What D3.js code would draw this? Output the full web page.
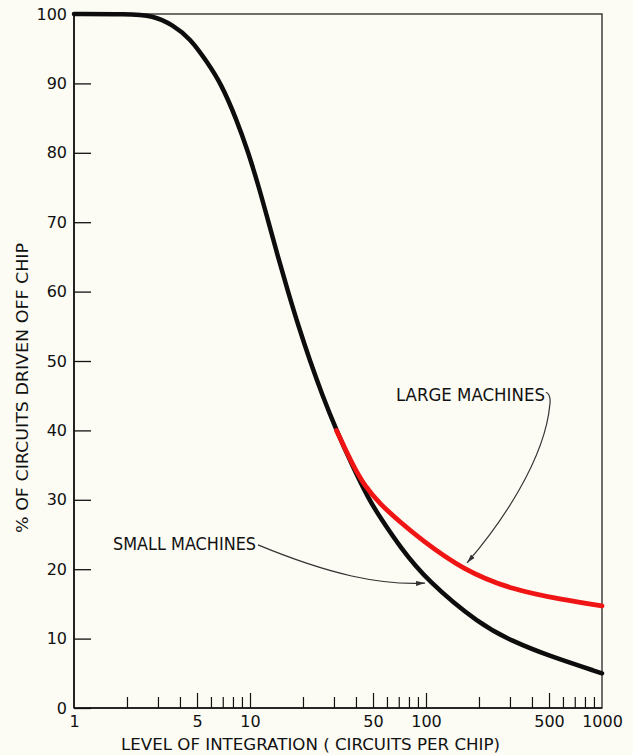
<!DOCTYPE html>
<html>
<head>
<meta charset="utf-8">
<script src="https://cdn.jsdelivr.net/npm/d3@7"></script>
<style>
  body { margin: 0; background: #fcfcf4; }
  svg { display: block; }
</style>
</head>
<body>
<div id="wrapper"></div>
<script>
// 1. Data
const smallX = [1, 2, 2.81, 3.65, 4.56, 5.7, 6.84, 8.33, 9.8, 11.25, 12.74, 14.42, 16.44, 18.86, 21.93, 25.82, 31.0, 37.97, 47.45, 54.8, 71.2, 101, 203, 312, 487, 1000]
const smallY = [100, 100, 99.8, 98.4, 96.5, 93.1, 90, 85, 80, 75, 70, 65, 60, 55, 50, 45, 40, 35, 30, 27.5, 23.2, 18.4, 12.0, 9.6, 7.6, 5.0]

const largeX = [31, 38, 45, 54.8, 71.2, 92.5, 162, 312, 600, 1000]
const largeY = [40, 35.2, 31.9, 29.4, 26.8, 24.4, 19.9, 17.0, 15.6, 14.7]

const yTicks = [0, 10, 20, 30, 40, 50, 60, 70, 80, 90, 100]
const xLabelTicks = [1, 5, 10, 50, 100, 500, 1000]
const xMajorTicks = [5, 10, 50, 100, 500]
const xMinorTicks = [2, 3, 4, 6, 7, 8, 9, 20, 30, 40, 60, 70, 80, 90, 200, 300, 400, 600, 700, 800, 900]

const smallLabel = "SMALL MACHINES"
const largeLabel = "LARGE MACHINES"
const xTitle = "LEVEL OF INTEGRATION  ( CIRCUITS PER CHIP)"
const yTitle = "% OF CIRCUITS DRIVEN OFF CHIP"

// 2. Dimensions
const dimensions = {
  width: 633,
  height: 755,
  margin: { top: 14, right: 31, bottom: 47, left: 74 },
}
dimensions.boundedWidth = dimensions.width - dimensions.margin.left - dimensions.margin.right
dimensions.boundedHeight = dimensions.height - dimensions.margin.top - dimensions.margin.bottom

const ink = "#111"
const font = "'DejaVu Sans', sans-serif"

// 3. Canvas
const wrapper = d3.select("#wrapper")
  .append("svg")
  .attr("width", dimensions.width)
  .attr("height", dimensions.height)
  .style("background-color", "#fcfcf4")
  .style("font-family", font)

const bounds = wrapper.append("g")
  .attr("transform", `translate(${dimensions.margin.left},${dimensions.margin.top})`)

// 4. Scales
const xScale = d3.scaleLog()
  .domain([1, 1000])
  .range([0, dimensions.boundedWidth])
const yScale = d3.scaleLinear()
  .domain([0, 100])
  .range([dimensions.boundedHeight, 0])

// 5. Peripherals (frame + axes)
bounds.append("rect")
  .attr("width", dimensions.boundedWidth)
  .attr("height", dimensions.boundedHeight)
  .attr("fill", "none")
  .attr("stroke", "#222")
  .attr("stroke-width", 1.3)

const yAxis = bounds.append("g")
  .call(d3.axisLeft(yScale).tickValues(yTicks).tickSizeInner(-17).tickSizeOuter(0).tickPadding(7))
yAxis.select(".domain").remove()
yAxis.selectAll("line").attr("stroke", ink).attr("stroke-width", 1.3)
yAxis.selectAll("text")
  .attr("fill", ink)
  .style("font-size", "16px")
  .style("font-family", font)

const xMinor = bounds.append("g")
  .attr("transform", `translate(0,${dimensions.boundedHeight})`)
  .call(d3.axisBottom(xScale).tickValues(xMinorTicks).tickSizeInner(-11).tickSizeOuter(0).tickFormat(""))
xMinor.select(".domain").remove()
xMinor.selectAll("line").attr("stroke", ink).attr("stroke-width", 1.2)

const xMajor = bounds.append("g")
  .attr("transform", `translate(0,${dimensions.boundedHeight})`)
  .call(d3.axisBottom(xScale).tickValues(xMajorTicks).tickSizeInner(-15).tickSizeOuter(0).tickFormat(""))
xMajor.select(".domain").remove()
xMajor.selectAll("line").attr("stroke", ink).attr("stroke-width", 1.2)

const xLabels = bounds.append("g")
  .attr("transform", `translate(0,${dimensions.boundedHeight})`)
  .call(d3.axisBottom(xScale).tickValues(xLabelTicks).tickSize(0).tickPadding(8).tickFormat(d3.format("d")))
xLabels.select(".domain").remove()
xLabels.selectAll("text")
  .attr("fill", ink)
  .style("font-size", "16px")
  .style("font-family", font)

bounds.append("line")
  .attr("x1", 0).attr("x2", dimensions.boundedWidth)
  .attr("y1", dimensions.boundedHeight).attr("y2", dimensions.boundedHeight)
  .attr("stroke", ink).attr("stroke-width", 1.6)
bounds.append("line")
  .attr("x1", 0).attr("x2", 0)
  .attr("y1", 0).attr("y2", dimensions.boundedHeight)
  .attr("stroke", ink).attr("stroke-width", 1.6)

wrapper.append("text")
  .attr("x", 121)
  .attr("y", 750)
  .attr("textLength", 379)
  .attr("lengthAdjust", "spacingAndGlyphs")
  .attr("fill", ink)
  .style("font-size", "15px")
  .text(xTitle)

wrapper.append("text")
  .attr("transform", "translate(28,388) rotate(-90)")
  .attr("text-anchor", "middle")
  .attr("textLength", 290)
  .attr("lengthAdjust", "spacingAndGlyphs")
  .attr("fill", ink)
  .style("font-size", "16px")
  .text(yTitle)

// 6. Data
// basis curve smooths out small reading errors in the hand-drawn lines
const line = d3.line()
  .x(d => xScale(d[0]))
  .y(d => yScale(d[1]))
  .curve(d3.curveBasis)

bounds.append("path")
  .datum(d3.zip(smallX, smallY))
  .attr("d", line)
  .attr("fill", "none")
  .attr("stroke", "#0d0d0d")
  .attr("stroke-width", 4.5)
  .attr("stroke-linecap", "round")

bounds.append("path")
  .datum(d3.zip(largeX, largeY))
  .attr("d", line)
  .attr("fill", "none")
  .attr("stroke", "#f01515")
  .attr("stroke-width", 4.8)
  .attr("stroke-linecap", "round")

// 7. Annotations
wrapper.append("defs").append("marker")
  .attr("id", "arrow")
  .attr("viewBox", "0 -3 9 6")
  .attr("refX", 9)
  .attr("refY", 0)
  .attr("markerWidth", 9)
  .attr("markerHeight", 6)
  .attr("markerUnits", "userSpaceOnUse")
  .attr("orient", "auto")
  .append("path")
  .attr("d", "M0,-2.5L9,0L0,2.5Z")
  .attr("fill", "#333")

const pt = d => [xScale(d[0]), yScale(d[1])]

// small machines label + leader
const smallAnchor = pt([1.666, 22.8])
bounds.append("text")
  .attr("x", smallAnchor[0])
  .attr("y", smallAnchor[1])
  .attr("textLength", 143)
  .attr("lengthAdjust", "spacingAndGlyphs")
  .attr("fill", ink)
  .style("font-size", "17px")
  .text(smallLabel)

const sl = [[11.1, 23.5], [28.5, 19.2], [54.8, 17.7], [98.7, 18.0]].map(pt)
const smallPath = d3.path()
smallPath.moveTo(...sl[0])
smallPath.bezierCurveTo(...sl[1], ...sl[2], ...sl[3])
bounds.append("path")
  .attr("d", smallPath.toString())
  .attr("fill", "none")
  .attr("stroke", "#333")
  .attr("stroke-width", 1.2)
  .attr("marker-end", "url(#arrow)")

// large machines label + leader
const largeAnchor = pt([67.5, 44.2])
bounds.append("text")
  .attr("x", largeAnchor[0])
  .attr("y", largeAnchor[1])
  .attr("textLength", 149)
  .attr("lengthAdjust", "spacingAndGlyphs")
  .attr("fill", ink)
  .style("font-size", "17px")
  .text(largeLabel)

const ll = [[480, 45.5], [513, 45.2], [506, 43.8], [474, 35.7], [263, 26.4], [171, 20.9]].map(pt)
const largePath = d3.path()
largePath.moveTo(...ll[0])
largePath.quadraticCurveTo(...ll[1], ...ll[2])
largePath.bezierCurveTo(...ll[3], ...ll[4], ...ll[5])
bounds.append("path")
  .attr("d", largePath.toString())
  .attr("fill", "none")
  .attr("stroke", "#333")
  .attr("stroke-width", 1.2)
  .attr("marker-end", "url(#arrow)")
</script>
</body>
</html>
